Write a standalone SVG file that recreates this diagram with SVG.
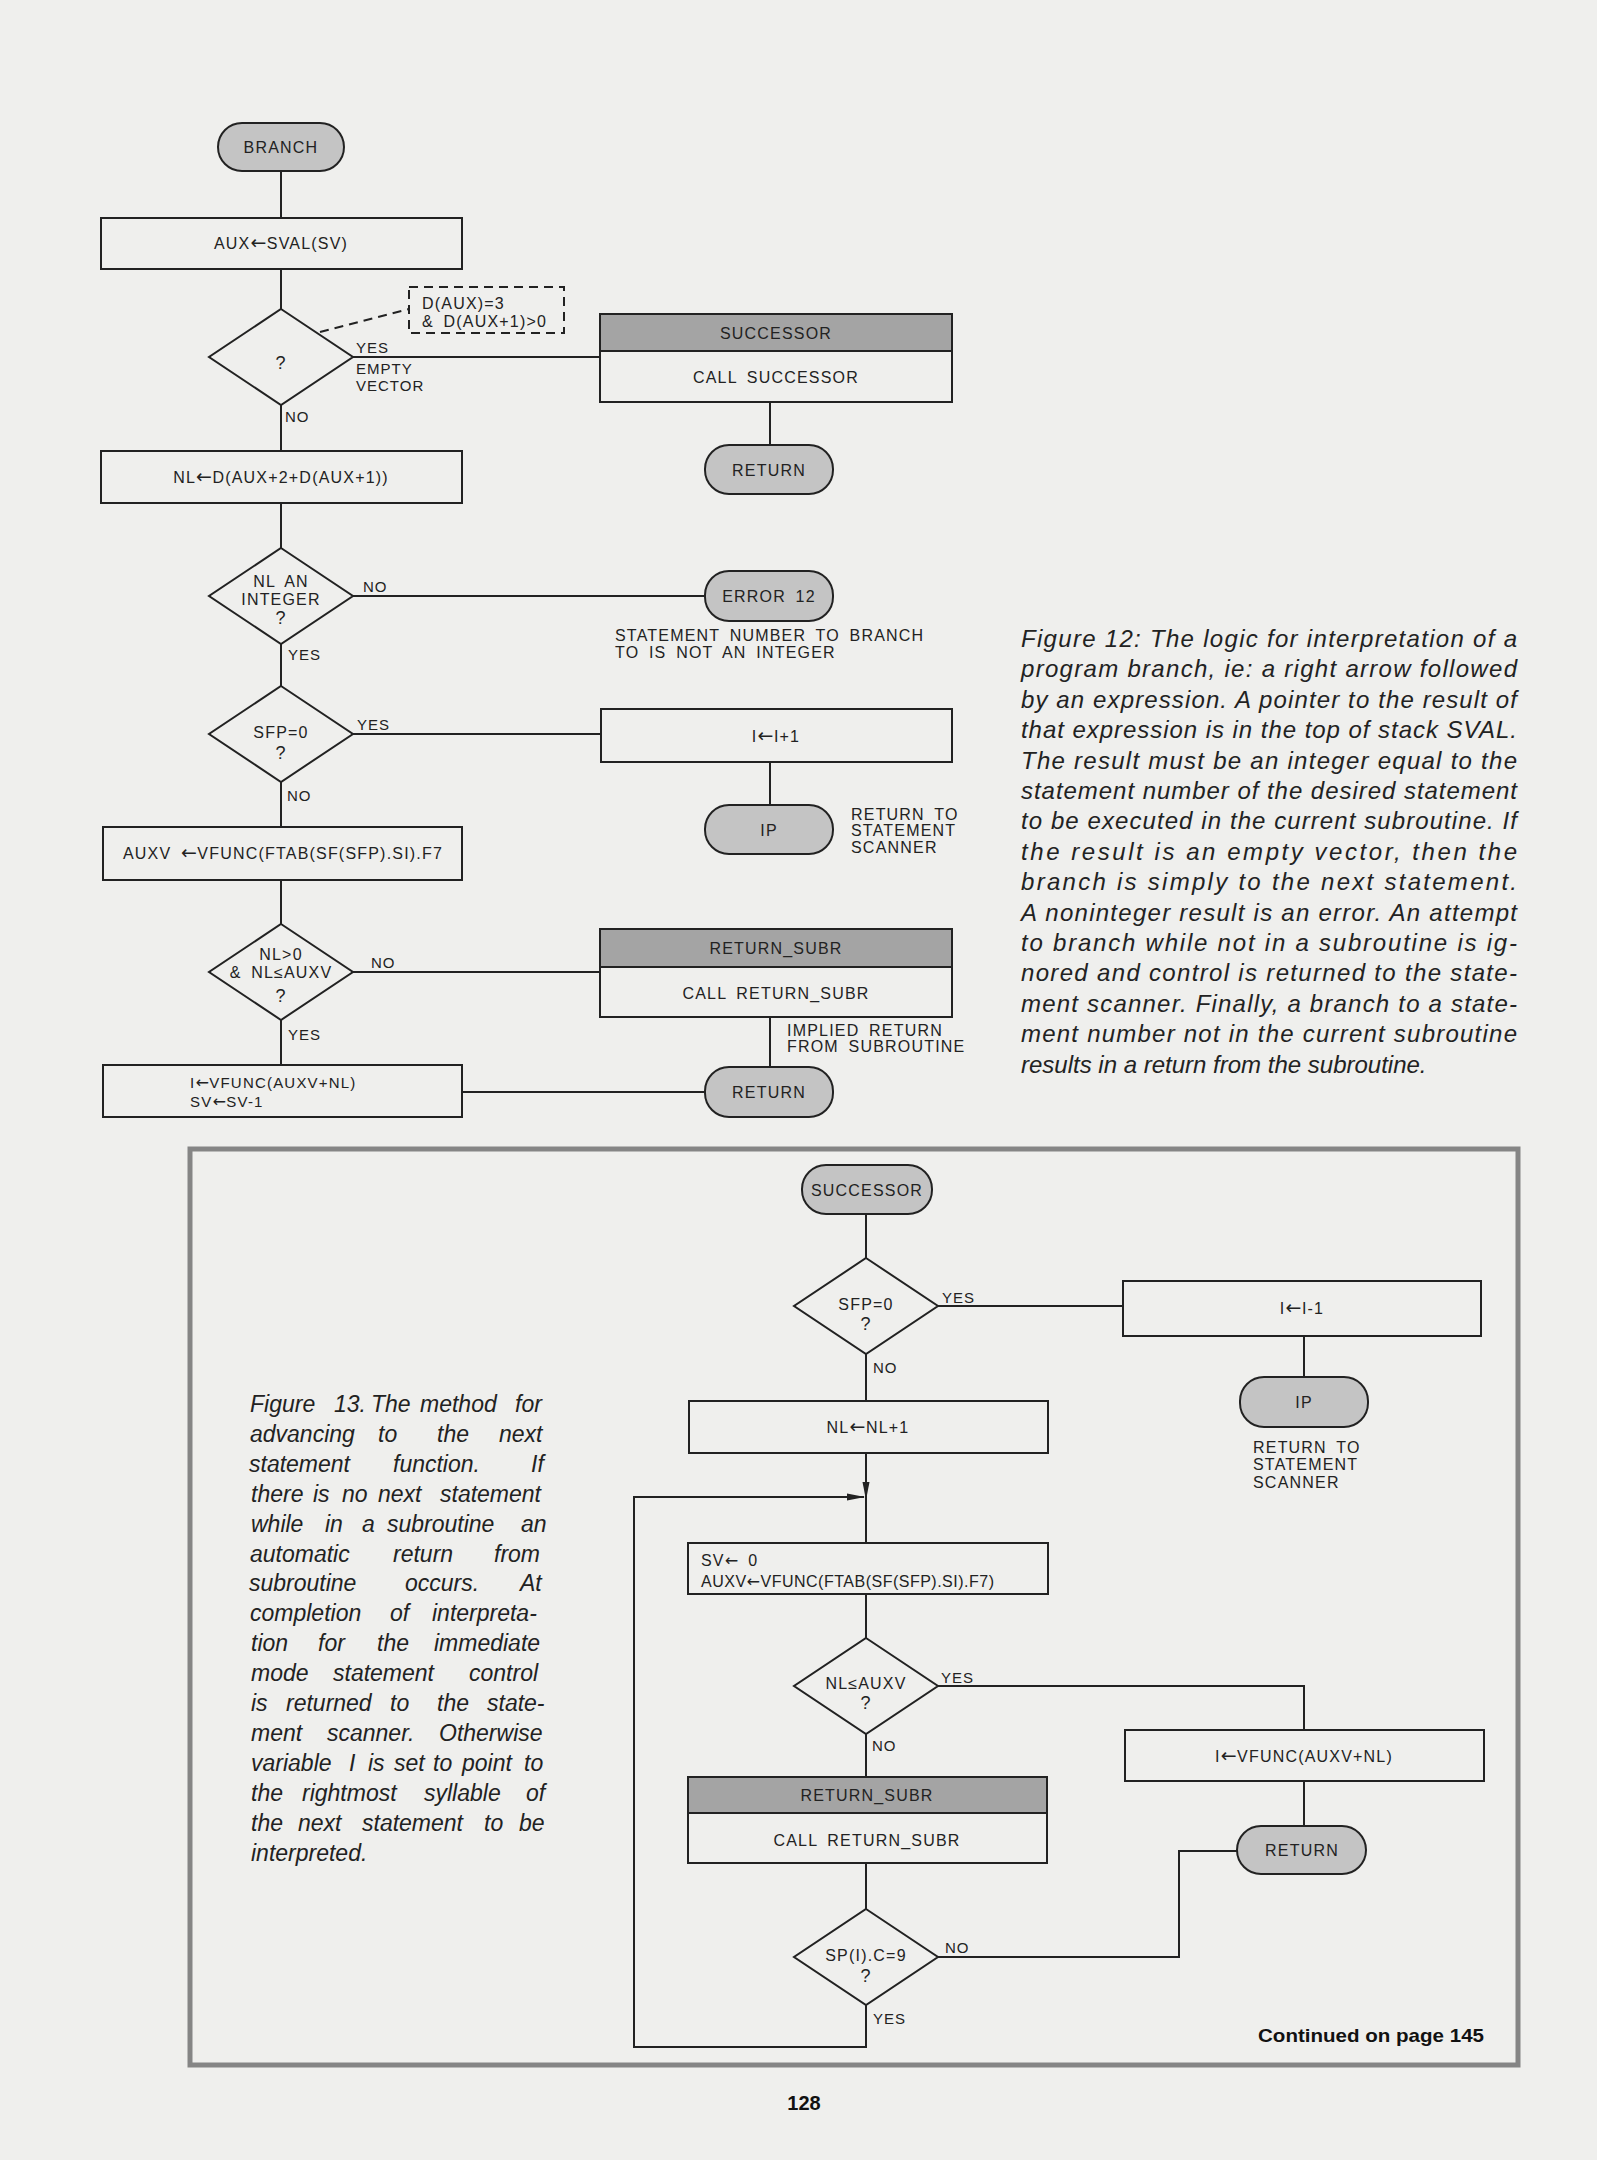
<svg xmlns="http://www.w3.org/2000/svg" width="1597" height="2160" viewBox="0 0 1597 2160">
<style>
.bg{fill:#efefed}
.box{fill:none;stroke:#222;stroke-width:2}
.term{fill:#c4c4c4;stroke:#222;stroke-width:2}
.hdr{fill:#a4a4a4;stroke:#222;stroke-width:2}
.dia{fill:none;stroke:#222;stroke-width:2}
.ln{fill:none;stroke:#222;stroke-width:2}
.dash{fill:none;stroke:#222;stroke-width:2;stroke-dasharray:9 6}
.t{font-family:"Liberation Sans",Arial,sans-serif;font-size:16px;letter-spacing:1.2px;word-spacing:4px;fill:#222;text-anchor:middle}
.tl{font-family:"Liberation Sans",Arial,sans-serif;font-size:16px;letter-spacing:1.2px;word-spacing:4px;fill:#222;text-anchor:start}
.sm{font-size:15px}
.q{font-size:18px}
.ar{font-family:"DejaVu Sans",sans-serif;font-size:19px;letter-spacing:0.5px}
.ars{font-family:"DejaVu Sans",sans-serif;font-size:16px;letter-spacing:0.5px}
.lbl{font-family:"Liberation Sans",Arial,sans-serif;font-size:15px;letter-spacing:1px;fill:#222;text-anchor:start}
.cap{font-family:"Liberation Sans",Arial,sans-serif;font-style:italic;font-size:24px;fill:#222}
.cap13{font-family:"Liberation Sans",Arial,sans-serif;font-style:italic;font-size:23px;fill:#222}
.bold{font-family:"Liberation Sans",Arial,sans-serif;font-weight:bold;fill:#111}
.frame{fill:none;stroke:#858585;stroke-width:5}
</style>
<defs>
<marker id="arr" markerUnits="userSpaceOnUse" markerWidth="18" markerHeight="8" refX="17" refY="4" orient="auto">
<path d="M0,0.5 L18,4 L0,7.5 z" fill="#222"/>
</marker>
</defs>
<rect class="bg" x="0" y="0" width="1597" height="2160"/>

<!-- ============ FIGURE 12 connectors ============ -->
<g id="connectors-fig12">
<line class="ln" x1="281" y1="171" x2="281" y2="218"/>
<line class="ln" x1="281" y1="269" x2="281" y2="309"/>
<line class="dash" x1="320" y1="332" x2="409" y2="309"/>
<line class="ln" x1="353" y1="357" x2="600" y2="357"/>
<line class="ln" x1="770" y1="402" x2="770" y2="445"/>
<line class="ln" x1="281" y1="405" x2="281" y2="451"/>
<line class="ln" x1="281" y1="503" x2="281" y2="548"/>
<line class="ln" x1="353" y1="596" x2="705" y2="596"/>
<line class="ln" x1="281" y1="644" x2="281" y2="686"/>
<line class="ln" x1="353" y1="734" x2="601" y2="734"/>
<line class="ln" x1="770" y1="762" x2="770" y2="805"/>
<line class="ln" x1="281" y1="782" x2="281" y2="827"/>
<line class="ln" x1="281" y1="880" x2="281" y2="924"/>
<line class="ln" x1="353" y1="972" x2="600" y2="972"/>
<line class="ln" x1="770" y1="1017" x2="770" y2="1067"/>
<line class="ln" x1="281" y1="1020" x2="281" y2="1065"/>
<line class="ln" x1="462" y1="1092" x2="705" y2="1092"/>
</g>

<!-- ============ FIGURE 12 nodes ============ -->
<g id="n-branch">
<rect class="term" x="218" y="123" width="126" height="48" rx="24" ry="24"/>
<text class="t" x="281" y="153">BRANCH</text>
</g>
<g id="n-aux">
<rect class="box" x="101" y="218" width="361" height="51"/>
<text class="t" x="281" y="249">AUX<tspan class="ar">←</tspan>SVAL(SV)</text>
</g>
<g id="n-q1">
<polygon class="dia" points="281,309 353,357 281,405 209,357"/>
<text class="t q" x="281" y="369">?</text>
</g>
<g id="n-note">
<rect class="dash" x="409" y="287" width="155" height="46"/>
<text class="tl" x="422" y="309">D(AUX)=3</text>
<text class="tl" x="422" y="327">&amp; D(AUX+1)&gt;0</text>
</g>
<g id="n-successor-call">
<rect class="hdr" x="600" y="314" width="352" height="37"/>
<rect class="box" x="600" y="314" width="352" height="88"/>
<text class="t" x="776" y="339">SUCCESSOR</text>
<text class="t" x="776" y="383">CALL SUCCESSOR</text>
</g>
<g id="n-return1">
<rect class="term" x="705" y="445" width="128" height="49" rx="24" ry="24"/>
<text class="t" x="769" y="476">RETURN</text>
</g>
<g id="n-nl">
<rect class="box" x="101" y="451" width="361" height="52"/>
<text class="t" x="281" y="483">NL<tspan class="ar">←</tspan>D(AUX+2+D(AUX+1))</text>
</g>
<g id="n-q2">
<polygon class="dia" points="281,548 353,596 281,644 209,596"/>
<text class="t" x="281" y="587">NL AN</text>
<text class="t" x="281" y="605">INTEGER</text>
<text class="t q" x="281" y="624">?</text>
</g>
<g id="n-error12">
<rect class="term" x="705" y="571" width="128" height="50" rx="24" ry="24"/>
<text class="t" x="769" y="602">ERROR 12</text>
<text class="tl" x="615" y="641">STATEMENT NUMBER TO BRANCH</text>
<text class="tl" x="615" y="658">TO IS NOT AN INTEGER</text>
</g>
<g id="n-q3">
<polygon class="dia" points="281,686 353,734 281,782 209,734"/>
<text class="t" x="281" y="738">SFP=0</text>
<text class="t q" x="281" y="759">?</text>
</g>
<g id="n-inc">
<rect class="box" x="601" y="709" width="351" height="53"/>
<text class="t" x="776" y="742">I<tspan class="ar">←</tspan>I+1</text>
</g>
<g id="n-ip1">
<rect class="term" x="705" y="805" width="128" height="49" rx="24" ry="24"/>
<text class="t" x="769" y="836">IP</text>
<text class="tl" x="851" y="820">RETURN TO</text>
<text class="tl" x="851" y="836">STATEMENT</text>
<text class="tl" x="851" y="853">SCANNER</text>
</g>
<g id="n-auxv">
<rect class="box" x="103" y="827" width="359" height="53"/>
<text class="t" x="283" y="859">AUXV <tspan class="ar">←</tspan>VFUNC(FTAB(SF(SFP).SI).F7</text>
</g>
<g id="n-q4">
<polygon class="dia" points="281,924 353,972 281,1020 209,972"/>
<text class="t" x="281" y="960">NL&gt;0</text>
<text class="t" x="281" y="978">&amp; NL≤AUXV</text>
<text class="t q" x="281" y="1002">?</text>
</g>
<g id="n-retsubr1">
<rect class="hdr" x="600" y="929" width="352" height="38"/>
<rect class="box" x="600" y="929" width="352" height="88"/>
<text class="t" x="776" y="954">RETURN_SUBR</text>
<text class="t" x="776" y="999">CALL RETURN_SUBR</text>
<text class="tl" x="787" y="1036">IMPLIED RETURN</text>
<text class="tl" x="787" y="1052">FROM SUBROUTINE</text>
</g>
<g id="n-ivfunc1">
<rect class="box" x="103" y="1065" width="359" height="52"/>
<text class="tl sm" x="190" y="1088">I<tspan class="ars">←</tspan>VFUNC(AUXV+NL)</text>
<text class="tl sm" x="190" y="1107">SV<tspan class="ars">←</tspan>SV-1</text>
</g>
<g id="n-return2">
<rect class="term" x="705" y="1067" width="128" height="50" rx="24" ry="24"/>
<text class="t" x="769" y="1098">RETURN</text>
</g>
<g id="labels-fig12">
<text class="lbl" x="285" y="422">NO</text>
<text class="lbl" x="356" y="353">YES</text>
<text class="lbl" x="356" y="374">EMPTY</text>
<text class="lbl" x="356" y="391">VECTOR</text>
<text class="lbl" x="363" y="592">NO</text>
<text class="lbl" x="288" y="660">YES</text>
<text class="lbl" x="357" y="730">YES</text>
<text class="lbl" x="287" y="801">NO</text>
<text class="lbl" x="371" y="968">NO</text>
<text class="lbl" x="288" y="1040">YES</text>
</g>

<!-- caption 12 -->
<g id="caption12" class="cap">
<text x="1021" y="647" textLength="496" lengthAdjust="spacing">Figure 12: The logic for interpretation of a</text>
<text x="1021" y="677.4" textLength="496" lengthAdjust="spacing">program branch, ie: a right arrow followed</text>
<text x="1021" y="707.8" textLength="496" lengthAdjust="spacing">by an expression. A pointer to the result of</text>
<text x="1021" y="738.2" textLength="496" lengthAdjust="spacing">that expression is in the top of stack SVAL.</text>
<text x="1021" y="768.6" textLength="496" lengthAdjust="spacing">The result must be an integer equal to the</text>
<text x="1021" y="799" textLength="496" lengthAdjust="spacing">statement number of the desired statement</text>
<text x="1021" y="829.4" textLength="496" lengthAdjust="spacing">to be executed in the current subroutine. If</text>
<text x="1021" y="859.8" textLength="496" lengthAdjust="spacing">the result is an empty vector, then the</text>
<text x="1021" y="890.2" textLength="496" lengthAdjust="spacing">branch is simply to the next statement.</text>
<text x="1021" y="920.6" textLength="496" lengthAdjust="spacing">A noninteger result is an error. An attempt</text>
<text x="1021" y="951" textLength="496" lengthAdjust="spacing">to branch while not in a subroutine is ig-</text>
<text x="1021" y="981.4" textLength="496" lengthAdjust="spacing">nored and control is returned to the state-</text>
<text x="1021" y="1011.8" textLength="496" lengthAdjust="spacing">ment scanner. Finally, a branch to a state-</text>
<text x="1021" y="1042.2" textLength="496" lengthAdjust="spacing">ment number not in the current subroutine</text>
<text x="1021" y="1072.6">results in a return from the subroutine.</text>
</g>

<!-- ============ FIGURE 13 ============ -->
<rect id="frame13" class="frame" x="190" y="1149" width="1328" height="916"/>

<g id="connectors-fig13">
<line class="ln" x1="866" y1="1214" x2="866" y2="1258"/>
<line class="ln" x1="938" y1="1306" x2="1123" y2="1306"/>
<line class="ln" x1="1304" y1="1336" x2="1304" y2="1377"/>
<line class="ln" x1="866" y1="1354" x2="866" y2="1401"/>
<line class="ln" x1="866" y1="1453" x2="866" y2="1499" marker-end="url(#arr)"/>
<line class="ln" x1="866" y1="1497" x2="866" y2="1543"/>
<polyline class="ln" points="866,2005 866,2047 634,2047 634,1497 864,1497" marker-end="url(#arr)"/>
<line class="ln" x1="866" y1="1594" x2="866" y2="1638"/>
<polyline class="ln" points="938,1686 1304,1686 1304,1730"/>
<line class="ln" x1="1304" y1="1781" x2="1304" y2="1826"/>
<line class="ln" x1="866" y1="1734" x2="866" y2="1777"/>
<line class="ln" x1="866" y1="1863" x2="866" y2="1909"/>
<polyline class="ln" points="938,1957 1179,1957 1179,1851 1237,1851"/>
</g>

<g id="m-successor">
<rect class="term" x="802" y="1165" width="130" height="49" rx="24" ry="24"/>
<text class="t" x="867" y="1196">SUCCESSOR</text>
</g>
<g id="m-q1">
<polygon class="dia" points="866,1258 938,1306 866,1354 794,1306"/>
<text class="t" x="866" y="1310">SFP=0</text>
<text class="t q" x="866" y="1330">?</text>
</g>
<g id="m-dec">
<rect class="box" x="1123" y="1281" width="358" height="55"/>
<text class="t" x="1302" y="1314">I<tspan class="ar">←</tspan>I-1</text>
</g>
<g id="m-ip">
<rect class="term" x="1240" y="1377" width="128" height="50" rx="24" ry="24"/>
<text class="t" x="1304" y="1408">IP</text>
<text class="tl" x="1253" y="1453">RETURN TO</text>
<text class="tl" x="1253" y="1470">STATEMENT</text>
<text class="tl" x="1253" y="1488">SCANNER</text>
</g>
<g id="m-nlinc">
<rect class="box" x="689" y="1401" width="359" height="52"/>
<text class="t" x="868" y="1433">NL<tspan class="ar">←</tspan>NL+1</text>
</g>
<g id="m-sv">
<rect class="box" x="688" y="1543" width="360" height="51"/>
<text class="tl" x="701" y="1566">SV<tspan class="ars">←</tspan> 0</text>
<text class="tl" x="701" y="1587" style="letter-spacing:0.5px">AUXV<tspan class="ars">←</tspan>VFUNC(FTAB(SF(SFP).SI).F7)</text>
</g>
<g id="m-q2">
<polygon class="dia" points="866,1638 938,1686 866,1734 794,1686"/>
<text class="t" x="866" y="1689">NL≤AUXV</text>
<text class="t q" x="866" y="1709">?</text>
</g>
<g id="m-ivfunc">
<rect class="box" x="1125" y="1730" width="359" height="51"/>
<text class="t" x="1304" y="1762">I<tspan class="ar">←</tspan>VFUNC(AUXV+NL)</text>
</g>
<g id="m-return">
<rect class="term" x="1237" y="1826" width="129" height="48" rx="24" ry="24"/>
<text class="t" x="1302" y="1856">RETURN</text>
</g>
<g id="m-retsubr">
<rect class="hdr" x="688" y="1777" width="359" height="36"/>
<rect class="box" x="688" y="1777" width="359" height="86"/>
<text class="t" x="867" y="1801">RETURN_SUBR</text>
<text class="t" x="867" y="1846">CALL RETURN_SUBR</text>
</g>
<g id="m-q3">
<polygon class="dia" points="866,1909 938,1957 866,2005 794,1957"/>
<text class="t" x="866" y="1961">SP(I).C=9</text>
<text class="t q" x="866" y="1982">?</text>
</g>
<g id="labels-fig13">
<text class="lbl" x="942" y="1303">YES</text>
<text class="lbl" x="873" y="1373">NO</text>
<text class="lbl" x="941" y="1683">YES</text>
<text class="lbl" x="872" y="1751">NO</text>
<text class="lbl" x="945" y="1953">NO</text>
<text class="lbl" x="873" y="2024">YES</text>
</g>

<!-- caption 13 -->
<g id="caption13" class="cap13">
<text y="1412"><tspan x="250">Figure</tspan><tspan x="334">13.</tspan><tspan x="371">The</tspan><tspan x="420">method</tspan><tspan x="515">for</tspan></text>
<text y="1441.9"><tspan x="250">advancing</tspan><tspan x="378">to</tspan><tspan x="437">the</tspan><tspan x="499">next</tspan></text>
<text y="1471.8"><tspan x="249">statement</tspan><tspan x="393">function.</tspan><tspan x="531">If</tspan></text>
<text y="1501.7"><tspan x="251">there</tspan><tspan x="313">is</tspan><tspan x="342">no</tspan><tspan x="378">next</tspan><tspan x="440">statement</tspan></text>
<text y="1531.6"><tspan x="251">while</tspan><tspan x="325">in</tspan><tspan x="362">a</tspan><tspan x="387">subroutine</tspan><tspan x="521">an</tspan></text>
<text y="1561.5"><tspan x="250">automatic</tspan><tspan x="393">return</tspan><tspan x="494">from</tspan></text>
<text y="1591.4"><tspan x="249">subroutine</tspan><tspan x="405">occurs.</tspan><tspan x="520">At</tspan></text>
<text y="1621.3"><tspan x="250">completion</tspan><tspan x="390">of</tspan><tspan x="432">interpreta-</tspan></text>
<text y="1651.2"><tspan x="251">tion</tspan><tspan x="318">for</tspan><tspan x="377">the</tspan><tspan x="434">immediate</tspan></text>
<text y="1681.1"><tspan x="251">mode</tspan><tspan x="333">statement</tspan><tspan x="469">control</tspan></text>
<text y="1711"><tspan x="251">is</tspan><tspan x="286">returned</tspan><tspan x="390">to</tspan><tspan x="437">the</tspan><tspan x="487">state-</tspan></text>
<text y="1740.9"><tspan x="251">ment</tspan><tspan x="327">scanner.</tspan><tspan x="439">Otherwise</tspan></text>
<text y="1770.8"><tspan x="251">variable</tspan><tspan x="349">I</tspan><tspan x="368">is</tspan><tspan x="394">set</tspan><tspan x="433">to</tspan><tspan x="462">point</tspan><tspan x="524">to</tspan></text>
<text y="1800.7"><tspan x="251">the</tspan><tspan x="302">rightmost</tspan><tspan x="424">syllable</tspan><tspan x="526">of</tspan></text>
<text y="1830.6"><tspan x="251">the</tspan><tspan x="298">next</tspan><tspan x="362">statement</tspan><tspan x="484">to</tspan><tspan x="519">be</tspan></text>
<text y="1860.5"><tspan x="251">interpreted.</tspan></text>
</g>

<text id="continued" class="bold" x="1484" y="2042" font-size="19" text-anchor="end" textLength="226" lengthAdjust="spacingAndGlyphs">Continued on page 145</text>
<text id="pagenum" class="bold" x="804" y="2110" font-size="20" text-anchor="middle">128</text>
</svg>
